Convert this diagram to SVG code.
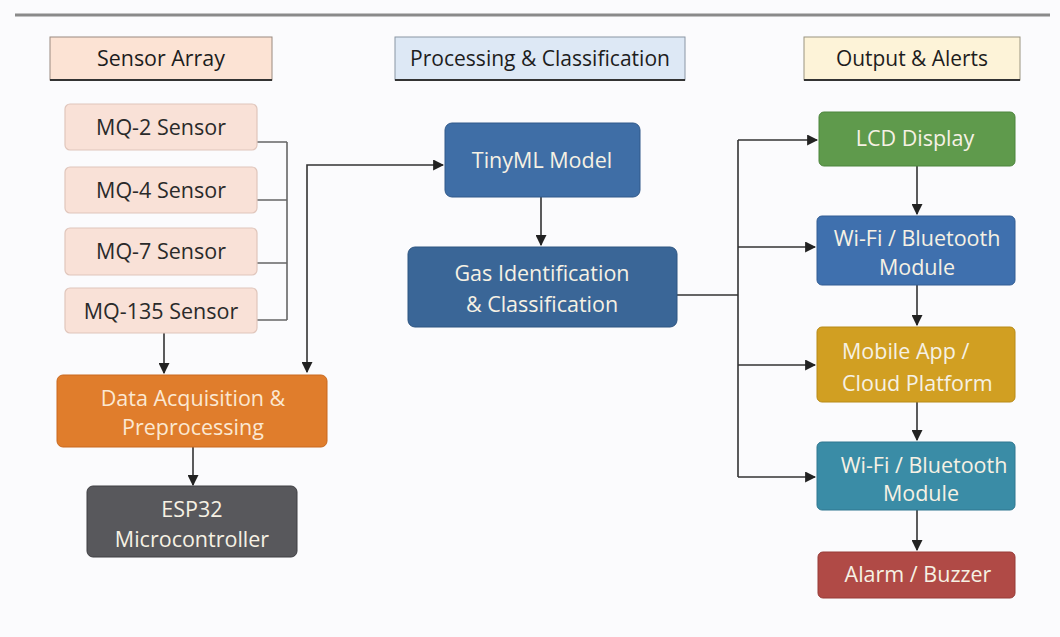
<svg xmlns="http://www.w3.org/2000/svg" width="1060" height="637" viewBox="0 0 1060 637">
<defs>
<marker id="ah" viewBox="0 0 10 10" refX="9" refY="5" markerWidth="11" markerHeight="11" markerUnits="userSpaceOnUse" orient="auto-start-reverse">
<path d="M0,0 L10,5 L0,10 z" fill="#222"/>
</marker>
<style>
text{font-family:"Open Sans","Noto Sans","Liberation Sans",sans-serif;text-anchor:middle;dominant-baseline:central}
.hdr{font-size:21px;fill:#1d1d1d;font-weight:500}
.lt{font-size:21.5px;fill:#2a2a2a}
.dk{font-size:21.5px;fill:#f6f1e4}
.c{fill:none;stroke:#333;stroke-width:1.6}
.b{fill:none;stroke:#666;stroke-width:1.6}
.sen{fill:#f9e1d7;stroke:#e0c6bc;stroke-width:1.2}
</style>
</defs>
<rect width="1060" height="637" fill="#fbfbfd"/>
<line x1="15" y1="15" x2="1050" y2="15" stroke="#8a8a8a" stroke-width="3"/>

<g id="hdr-sensor">
<rect x="50" y="37" width="222" height="43" fill="#fce3d4" stroke="#9a8a80" stroke-width="1"/>
<line x1="50" y1="80" x2="272" y2="80" stroke="#333" stroke-width="2"/>
<text class="hdr" x="161" y="58" textLength="128" lengthAdjust="spacingAndGlyphs">Sensor Array</text>
</g>
<g id="hdr-proc">
<rect x="395" y="37" width="290" height="43" fill="#dde8f5" stroke="#8a96a4" stroke-width="1"/>
<line x1="395" y1="80" x2="685" y2="80" stroke="#333" stroke-width="2"/>
<text class="hdr" x="540" y="58" textLength="260" lengthAdjust="spacingAndGlyphs">Processing &amp; Classification</text>
</g>
<g id="hdr-out">
<rect x="804" y="37" width="216" height="43" fill="#fdf3d8" stroke="#9a9480" stroke-width="1"/>
<line x1="804" y1="80" x2="1020" y2="80" stroke="#333" stroke-width="2"/>
<text class="hdr" x="912" y="58" textLength="152" lengthAdjust="spacingAndGlyphs">Output &amp; Alerts</text>
</g>

<g id="connectors">
<path class="b" d="M257,142 H287 M257,200 H287 M257,263 H287 M257,320 H287 M287,142 V320"/>
<path class="c" d="M307,372 V165 H443" marker-start="url(#ah)" marker-end="url(#ah)"/>
<path class="c" d="M164,333 V373" marker-end="url(#ah)"/>
<path class="c" d="M193,447 V485" marker-end="url(#ah)"/>
<path class="c" d="M541,197 V245" marker-end="url(#ah)"/>
<path class="c" d="M677,295 H738"/>
<path class="c" d="M738,140 V477"/>
<path class="c" d="M738,140 H817" marker-end="url(#ah)"/>
<path class="c" d="M738,247 H815" marker-end="url(#ah)"/>
<path class="c" d="M738,365 H815" marker-end="url(#ah)"/>
<path class="c" d="M738,477 H815" marker-end="url(#ah)"/>
<path class="c" d="M917,166 V214" marker-end="url(#ah)"/>
<path class="c" d="M917,285 V325" marker-end="url(#ah)"/>
<path class="c" d="M917,402 V440" marker-end="url(#ah)"/>
<path class="c" d="M917,510 V550" marker-end="url(#ah)"/>
</g>

<g id="mq2"><rect class="sen" x="65" y="104" width="192" height="46" rx="5"/><text class="lt" x="161" y="126">MQ-2 Sensor</text></g>
<g id="mq4"><rect class="sen" x="65" y="167" width="192" height="46" rx="5"/><text class="lt" x="161" y="189">MQ-4 Sensor</text></g>
<g id="mq7"><rect class="sen" x="65" y="228" width="192" height="47" rx="5"/><text class="lt" x="161" y="250">MQ-7 Sensor</text></g>
<g id="mq135"><rect class="sen" x="65" y="288" width="192" height="45" rx="5"/><text class="lt" x="161" y="310">MQ-135 Sensor</text></g>

<g id="daq"><rect x="57" y="375" width="270" height="72" rx="6" fill="#e07d2c" stroke="#c9691e" stroke-width="1"/>
<text class="dk" x="193" y="397" style="fill:#fbe8d2">Data Acquisition &amp;</text>
<text class="dk" x="193" y="426" style="fill:#fbe8d2">Preprocessing</text></g>

<g id="esp32"><rect x="87" y="486" width="210" height="71" rx="6" fill="#58585c" stroke="#3e3e42" stroke-width="1"/>
<text class="dk" x="192" y="508">ESP32</text>
<text class="dk" x="192" y="538">Microcontroller</text></g>

<g id="tinyml"><rect x="445" y="123" width="195" height="74" rx="7" fill="#3f6ea6" stroke="#30598a" stroke-width="1"/>
<text class="dk" x="542" y="159">TinyML Model</text></g>

<g id="gasid"><rect x="408" y="247" width="269" height="80" rx="7" fill="#3a6697" stroke="#2d5480" stroke-width="1"/>
<text class="dk" x="542" y="272">Gas Identification</text>
<text class="dk" x="542" y="303">&amp; Classification</text></g>

<g id="lcd"><rect x="819" y="112" width="196" height="54" rx="5" fill="#5f9a4c" stroke="#4d853d" stroke-width="1"/>
<text class="dk" x="915" y="137">LCD Display</text></g>

<g id="wifi1"><rect x="817" y="216" width="198" height="69" rx="5" fill="#3f70ae" stroke="#325d94" stroke-width="1"/>
<text class="dk" x="917" y="237">Wi-Fi / Bluetooth</text>
<text class="dk" x="917" y="266">Module</text></g>

<g id="mobile"><rect x="817" y="327" width="198" height="75" rx="5" fill="#d19f22" stroke="#b88a16" stroke-width="1"/>
<text class="dk" x="842" y="350" style="text-anchor:start">Mobile App /</text>
<text class="dk" x="842" y="382" style="text-anchor:start">Cloud Platform</text></g>

<g id="wifi2"><rect x="817" y="442" width="198" height="68" rx="5" fill="#3a8ca6" stroke="#2e7790" stroke-width="1"/>
<text class="dk" x="924" y="464">Wi-Fi / Bluetooth</text>
<text class="dk" x="921" y="492">Module</text></g>

<g id="alarm"><rect x="818" y="552" width="197" height="46" rx="5" fill="#b04a46" stroke="#973a37" stroke-width="1"/>
<text class="dk" x="918" y="573">Alarm / Buzzer</text></g>
</svg>
